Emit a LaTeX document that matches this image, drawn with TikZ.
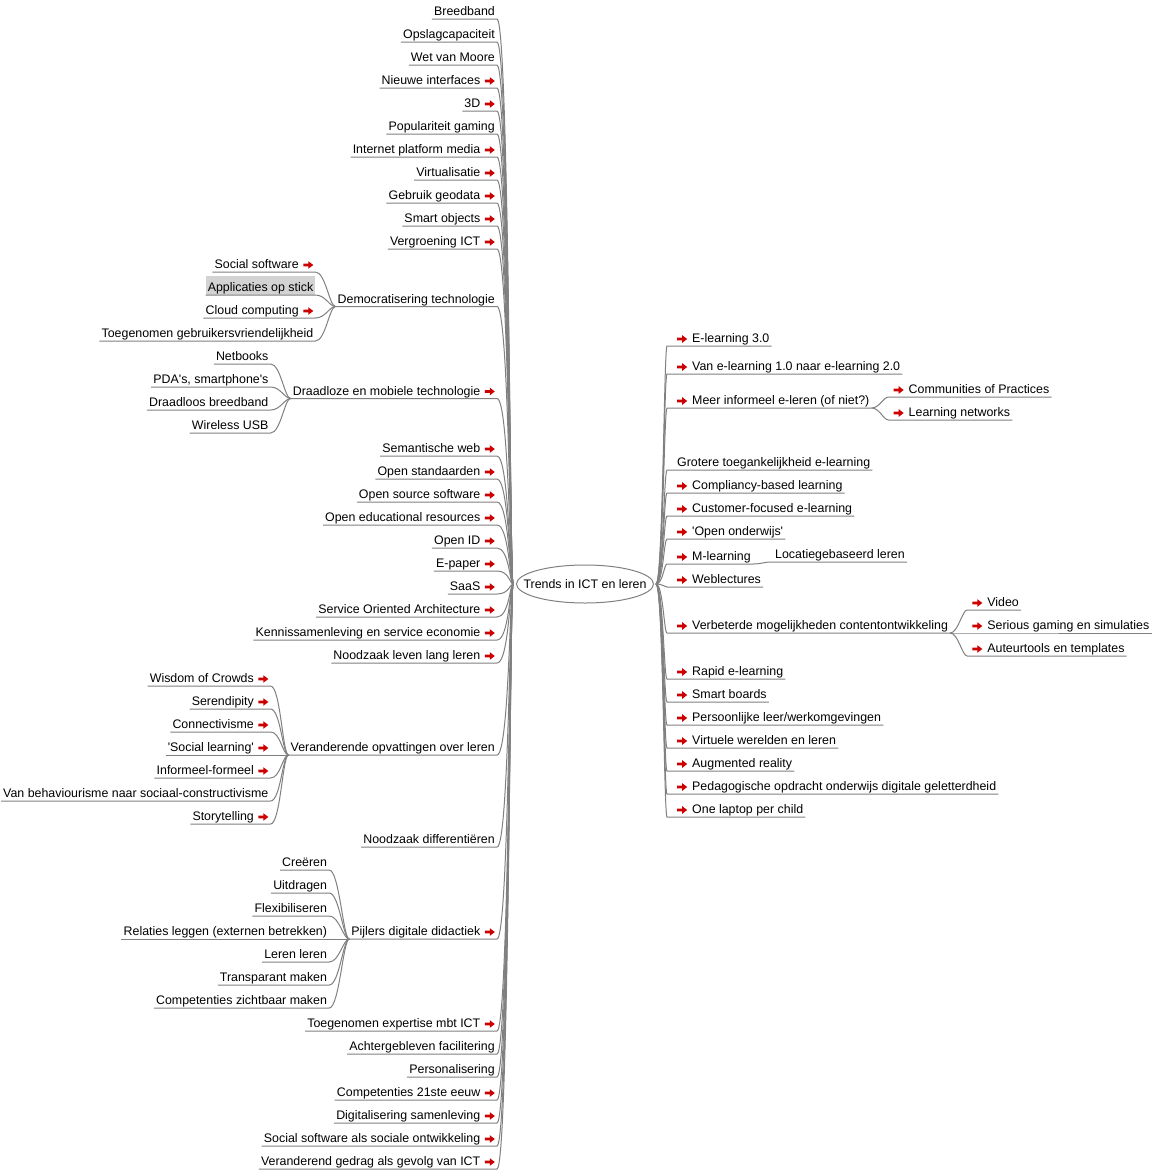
\documentclass[tikz,border=0pt]{standalone}
\usepackage{fontspec}
\newfontfamily\lib{Liberation Sans}
\usetikzlibrary{shapes.geometric,calc}
\definecolor{linegray}{RGB}{128,128,128}
\definecolor{linkred}{RGB}{204,0,0}
\definecolor{hlgray}{RGB}{211,211,211}
\newcommand\lk{\tikz[x=1pt,y=1pt,baseline=0pt]\fill[linkred] (0,2.4)--(5,2.4)--(5,0)--(10,3.8)--(5,7.6)--(5,5.2)--(0,5.2)--cycle;}
\newcommand\la{\hspace{4.5pt}\lk}
\newcommand\ra{\lk\hspace{5pt}}
\newcommand\Lmain[3]{\node[lft] (#1) at (497,#2) {#3};
  \draw[edge] (#1.south west) -- (#1.south east) .. controls +(12,0) and +(-3,0) .. (rl);}
\newcommand\Lkid[4]{\node[lft] (#1) at (#2c |- 0,#3) {#4};
  \draw[edge] (#1.south west) -- (#1.south east) .. controls +(10,0) and +(-6,0) .. (#2.south west);}
\newcommand\Rmain[3]{\node[rgt] (#1) at (675,#2) {#3};
  \draw[edge] (rr) .. controls +(7,0) and +(-3,0) .. ([xshift=-8pt]#1.south west) -- (#1.south east);}
\newcommand\Rkid[4]{\node[rgt] (#1) at (#2c |- 0,#3) {#4};
  \draw[edge] (#2.south east) .. controls +(8,0) and +(-5,0) .. ([xshift=-3pt]#1.south west) -- (#1.south east);}
\begin{document}
\begin{tikzpicture}[x=1pt,y=-1pt,
  lnode/.style={inner xsep=2pt, inner ysep=0pt, text height=10pt, text depth=3pt, font=\fontsize{12.4pt}{14pt}\lib},
  lft/.style={lnode, anchor=south east},
  rgt/.style={lnode, anchor=south west},
  edge/.style={draw=linegray, line width=1pt}]
\fill[white] (0,0) rectangle (1156,1170);
\useasboundingbox (0,0) rectangle (1156,1170);

\node[ellipse, draw=linegray, line width=1pt, minimum width=137pt, minimum height=38pt, inner sep=0pt,
  font=\fontsize{12.4pt}{14pt}\lib] (root) at (585,584) {\makebox[0pt]{Trends in ICT en leren}};
\coordinate (rl) at ($(root.west)+(-3,0)$);
\coordinate (rr) at ($(root.east)+(2,0)$);

% left side
\Lmain{a0}{19}{Breedband}
\Lmain{a1}{42}{Opslagcapaciteit}
\Lmain{a2}{65}{Wet van Moore}
\Lmain{a3}{88}{Nieuwe interfaces\la}
\Lmain{a4}{111}{3D\la}
\Lmain{a5}{134}{Populariteit gaming}
\Lmain{a6}{157}{Internet platform media\la}
\Lmain{a7}{180}{Virtualisatie\la}
\Lmain{a8}{203}{Gebruik geodata\la}
\Lmain{a9}{226}{Smart objects\la}
\Lmain{a10}{249}{Vergroening ICT\la}

\Lmain{dem}{306.5}{Democratisering technologie}
\coordinate (demc) at ($(dem.south west)+(-20,0)$);
\Lkid{a11}{dem}{272}{Social software\la}
\node[lft, fill=hlgray, text height=16pt] (a12) at (demc |- 0,295) {Applicaties op stick};
\draw[edge] (a12.south west) -- (a12.south east) .. controls +(10,0) and +(-6,0) .. (dem.south west);
\Lkid{a13}{dem}{318}{Cloud computing\la}
\Lkid{a14}{dem}{341}{Toegenomen gebruikersvriendelijkheid}

\Lmain{drl}{398.5}{Draadloze en mobiele technologie\la}
\coordinate (drlc) at ($(drl.south west)+(-20,0)$);
\Lkid{a15}{drl}{364}{Netbooks}
\Lkid{a16}{drl}{387}{PDA's, smartphone's}
\Lkid{a17}{drl}{410}{Draadloos breedband}
\Lkid{a18}{drl}{433}{Wireless USB}

\Lmain{a19}{456}{Semantische web\la}
\Lmain{a20}{479}{Open standaarden\la}
\Lmain{a21}{502}{Open source software\la}
\Lmain{a22}{525}{Open educational resources\la}
\Lmain{a23}{548}{Open ID\la}
\Lmain{a24}{571}{E-paper\la}
\Lmain{a25}{594}{SaaS\la}
\Lmain{a26}{617}{Service Oriented Architecture\la}
\Lmain{a27}{640}{Kennissamenleving en service economie\la}
\Lmain{a28}{663}{Noodzaak leven lang leren\la}

\Lmain{ver}{755}{Veranderende opvattingen over leren}
\coordinate (verc) at ($(ver.south west)+(-18,0)$);
\Lkid{a29}{ver}{686}{Wisdom of Crowds\la}
\Lkid{a30}{ver}{709}{Serendipity\la}
\Lkid{a31}{ver}{732}{Connectivisme\la}
\Lkid{a32}{ver}{755}{'Social learning'\la}
\Lkid{a33}{ver}{778}{Informeel-formeel\la}
\Lkid{a34}{ver}{801}{Van behaviourisme naar sociaal-constructivisme}
\Lkid{a35}{ver}{824}{Storytelling\la}

\Lmain{a36}{847}{Noodzaak differentiëren}

\Lmain{pij}{939}{Pijlers digitale didactiek\la}
\coordinate (pijc) at ($(pij.south west)+(-20,0)$);
\Lkid{a37}{pij}{870}{Creëren}
\Lkid{a38}{pij}{893}{Uitdragen}
\Lkid{a39}{pij}{916}{Flexibiliseren}
\Lkid{a40}{pij}{939}{Relaties leggen (externen betrekken)}
\Lkid{a41}{pij}{962}{Leren leren}
\Lkid{a42}{pij}{985}{Transparant maken}
\Lkid{a43}{pij}{1008}{Competenties zichtbaar maken}

\Lmain{a44}{1031}{Toegenomen expertise mbt ICT\la}
\Lmain{a45}{1054}{Achtergebleven facilitering}
\Lmain{a46}{1077}{Personalisering}
\Lmain{a47}{1100}{Competenties 21ste eeuw\la}
\Lmain{a48}{1123}{Digitalisering samenleving\la}
\Lmain{a49}{1146}{Social software als sociale ontwikkeling\la}
\Lmain{a50}{1169}{Veranderend gedrag als gevolg van ICT\la}

% right side
\Rmain{r1}{346}{\ra E-learning 3.0}
\Rmain{r2}{374}{\ra Van e-learning 1.0 naar e-learning 2.0}
\Rmain{r3}{408}{\ra Meer informeel e-leren (of niet?)}
\coordinate (r3c) at ($(r3.south east)+(20,0)$);
\Rkid{r3a}{r3}{397}{\ra Communities of Practices}
\Rkid{r3b}{r3}{420}{\ra Learning networks}
\Rmain{r4}{470}{Grotere toegankelijkheid e-learning}
\Rmain{r5}{493}{\ra Compliancy-based learning}
\Rmain{r6}{516}{\ra Customer-focused e-learning}
\Rmain{r7}{539}{\ra 'Open onderwijs'}
\Rmain{r8}{564}{\ra M-learning}
\coordinate (r8c) at ($(r8.south east)+(20,0)$);
\Rkid{r8a}{r8}{562}{Locatiegebaseerd leren}
\Rmain{r9}{587}{\ra Weblectures}
\Rmain{r10}{633}{\ra Verbeterde mogelijkheden contentontwikkeling}
\coordinate (r10c) at ($(r10.south east)+(20,0)$);
\Rkid{r10a}{r10}{610}{\ra Video}
\Rkid{r10b}{r10}{633}{\ra Serious gaming en simulaties}
\Rkid{r10c}{r10}{656}{\ra Auteurtools en templates}
\Rmain{r11}{679}{\ra Rapid e-learning}
\Rmain{r12}{702}{\ra Smart boards}
\Rmain{r13}{725}{\ra Persoonlijke leer/werkomgevingen}
\Rmain{r14}{748}{\ra Virtuele werelden en leren}
\Rmain{r15}{771}{\ra Augmented reality}
\Rmain{r16}{794}{\ra Pedagogische opdracht onderwijs digitale geletterdheid}
\Rmain{r17}{817}{\ra One laptop per child}
\end{tikzpicture}
\end{document}
